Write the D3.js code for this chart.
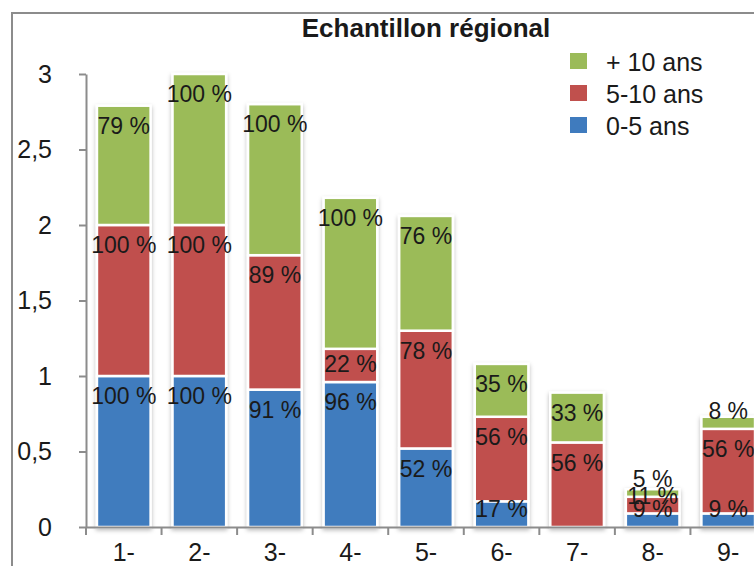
<!DOCTYPE html>
<html>
<head>
<meta charset="utf-8">
<script src="https://cdn.jsdelivr.net/npm/d3@7"></script>
<style>
  html, body { margin: 0; padding: 0; background: #fff; }
  svg { display: block; }
  text { font-family: "Liberation Sans", Arial, Helvetica, sans-serif; }
</style>
</head>
<body>
<svg id="chart" width="754" height="566"></svg>
<script>
const title = "Echantillon régional";
const categories = ["1-", "2-", "3-", "4-", "5-", "6-", "7-", "8-", "9-"];
const seriesNames = ["0-5 ans", "5-10 ans", "+ 10 ans"];
const seriesColors = ["#3F7BBE", "#C0504D", "#9BBB59"];
const young = [1.00, 1.00, 0.91, 0.96, 0.52, 0.17, 0.00, 0.09, 0.09];
const mid   = [1.00, 1.00, 0.89, 0.22, 0.78, 0.56, 0.56, 0.11, 0.56];
const old   = [0.79, 1.00, 1.00, 1.00, 0.76, 0.35, 0.33, 0.05, 0.08];
const yTicks = [0, 0.5, 1, 1.5, 2, 2.5, 3];

const svg = d3.select("#chart");
const W = 754, H = 566;

// frame
svg.append("path")
  .attr("d", `M12,${H + 5} L12,13 L${W + 5},13`)
  .attr("fill", "none").attr("stroke", "#8c8c8c").attr("stroke-width", 2);

// shadow filter
const defs = svg.append("defs");
const f = defs.append("filter").attr("id", "sh").attr("x", "-20%").attr("y", "-20%").attr("width", "140%").attr("height", "140%");
f.append("feDropShadow").attr("dx", 0).attr("dy", 2).attr("stdDeviation", 2.2)
  .attr("flood-color", "#000").attr("flood-opacity", 0.28);

const x = d3.scaleBand().domain(categories).range([86, 766]).paddingInner(0.29).paddingOuter(0.145);
const y = d3.scaleLinear().domain([0, 3]).range([527, 74]);

// data rows
const rows = categories.map((c, i) => ({ cat: c, s0: young[i], s1: mid[i], s2: old[i] }));
const stack = d3.stack().keys(["s0", "s1", "s2"])(rows);

// bars
const barG = svg.append("g").attr("filter", "url(#sh)");
stack.forEach((layer, li) => {
  barG.selectAll(null).data(layer.filter(d => d[1] - d[0] > 0)).enter()
    .append("rect")
    .attr("x", d => x(d.data.cat))
    .attr("width", x.bandwidth())
    .attr("y", d => y(d[1]))
    .attr("height", d => y(d[0]) - y(d[1]))
    .attr("fill", seriesColors[li])
    .attr("stroke", "#fff").attr("stroke-width", 2.5);
});

// y axis
const yAxis = d3.axisLeft(y).tickValues(yTicks).tickSize(7).tickSizeOuter(0).tickPadding(27)
  .tickFormat(d => String(d).replace(".", ","));
const yg = svg.append("g").attr("transform", "translate(86,0)").call(yAxis);
yg.select(".domain").attr("stroke", "#8c8c8c").attr("stroke-width", 2);
yg.selectAll(".tick line").attr("stroke", "#8c8c8c").attr("stroke-width", 2);
yg.selectAll(".tick text").attr("font-size", 25).attr("fill", "#1a1a1a")
  .attr("font-family", '"Liberation Sans", Arial, sans-serif');

// x axis
const xAxis = d3.axisBottom(x).tickSize(0).tickPadding(16);
const xg = svg.append("g").attr("transform", "translate(0,527)").call(xAxis);
xg.select(".domain").attr("stroke", "#8c8c8c").attr("stroke-width", 2);
xg.selectAll(".tick text").attr("font-size", 25).attr("fill", "#1a1a1a")
  .attr("font-family", '"Liberation Sans", Arial, sans-serif');
// boundary ticks
const bounds = categories.map(c => x(c) - x.step() * x.paddingInner() / 2);
svg.append("g").selectAll("line").data(bounds).enter().append("line")
  .attr("x1", d => d).attr("x2", d => d).attr("y1", 527).attr("y2", 535)
  .attr("stroke", "#8c8c8c").attr("stroke-width", 2);

// value labels
const lab = svg.append("g");
stack.forEach((layer) => {
  lab.selectAll(null).data(layer.filter(d => d[1] - d[0] > 0)).enter()
    .append("text")
    .attr("x", d => x(d.data.cat) + x.bandwidth() / 2)
    .attr("y", d => Math.min(y(d[1]) + 20, y(d[0]) - 18))
    .attr("dy", "0.36em")
    .attr("text-anchor", "middle")
    .attr("font-size", 23).attr("fill", "#1a1a1a")
    .text(d => Math.round((d[1] - d[0]) * 100) + " %");
});

// title
svg.append("text").attr("x", 426).attr("y", 37).attr("text-anchor", "middle")
  .attr("font-size", 26).attr("font-weight", "bold").attr("fill", "#1a1a1a").text(title);

// legend (reverse order)
const legOrder = [2, 1, 0];
const lg = svg.append("g");
legOrder.forEach((si, k) => {
  lg.append("rect").attr("x", 570).attr("y", 53 + k * 32).attr("width", 17).attr("height", 16)
    .attr("fill", seriesColors[si]);
  lg.append("text").attr("x", 606).attr("y", 71 + k * 32).attr("font-size", 25)
    .attr("fill", "#1a1a1a").text(seriesNames[si]);
});
</script>
</body>
</html>
